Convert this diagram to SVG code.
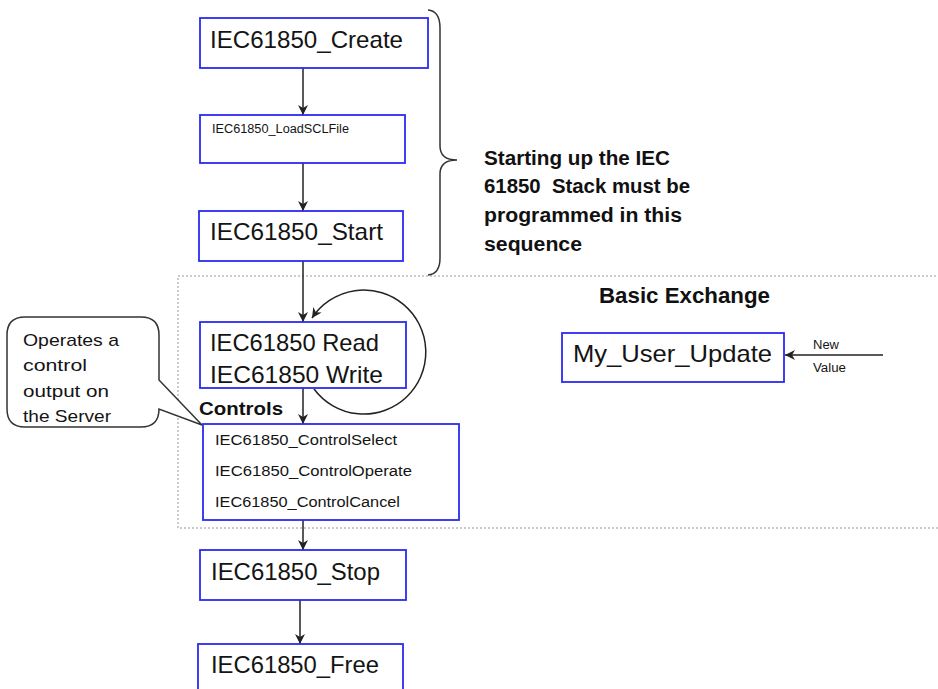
<svg xmlns="http://www.w3.org/2000/svg" width="938" height="689" viewBox="0 0 938 689">
<defs>
<style>
.box{fill:#fff;stroke:#2a2af2;stroke-width:1.8}
.t{font-family:"Liberation Sans",Arial,sans-serif;fill:#141414}
.b{font-family:"Liberation Sans",Arial,sans-serif;font-weight:bold;fill:#111}
.big{font-size:24px}
.c{fill:none;stroke:#222;stroke-width:1.5}
</style>
<marker id="ah" viewBox="0 0 10 10" refX="10" refY="5" markerWidth="10" markerHeight="10" markerUnits="userSpaceOnUse" orient="auto">
<path d="M0,0 L10,5 L0,10 L3,5 Z" fill="#222"/>
</marker>
</defs>
<rect width="938" height="689" fill="#fff"/>

<g id="basic-exchange-frame">
<rect x="178" y="276" width="790" height="252" fill="none" stroke="#999" stroke-width="1" stroke-dasharray="2 2"/>
<text class="b" x="599" y="303" font-size="22" textLength="171" lengthAdjust="spacingAndGlyphs">Basic Exchange</text>
</g>

<g id="brace">
<path d="M428,10 Q440,11 440,28 L440,146 Q440,160 457,160 Q440,160 440,174 L440,258 Q440,274 428,275" fill="none" stroke="#333" stroke-width="1.5"/>
<text class="b" font-size="20" xml:space="preserve" style="white-space:pre">
<tspan x="484" y="165" textLength="186" lengthAdjust="spacingAndGlyphs">Starting up the IEC</tspan>
<tspan x="484" y="193" textLength="206" lengthAdjust="spacingAndGlyphs">61850  Stack must be</tspan>
<tspan x="484" y="222" textLength="198" lengthAdjust="spacingAndGlyphs">programmed in this</tspan>
<tspan x="484" y="251" textLength="98" lengthAdjust="spacingAndGlyphs">sequence</tspan>
</text>
</g>

<g id="connectors">
<line class="c" x1="303" y1="68" x2="303" y2="115" marker-end="url(#ah)"/>
<line class="c" x1="303" y1="163" x2="303" y2="211" marker-end="url(#ah)"/>
<line class="c" x1="303" y1="261" x2="303" y2="322" marker-end="url(#ah)"/>
<line class="c" x1="303" y1="388" x2="303" y2="424" marker-end="url(#ah)"/>
<line class="c" x1="303" y1="520" x2="303" y2="550" marker-end="url(#ah)"/>
<line class="c" x1="300" y1="600" x2="300" y2="644" marker-end="url(#ah)"/>
<path class="c" d="M314,389 A62,62 0 1 0 312,318" stroke-width="1.8" marker-end="url(#ah)"/>
<line class="c" x1="883" y1="355" x2="785" y2="355" marker-end="url(#ah)"/>
<text class="t" x="813" y="349" font-size="12" textLength="26" lengthAdjust="spacingAndGlyphs">New</text>
<text class="t" x="813" y="372" font-size="12" textLength="33" lengthAdjust="spacingAndGlyphs">Value</text>
</g>

<g id="create">
<rect class="box" x="200" y="18" width="228" height="50"/>
<text class="t big" x="210" y="48" textLength="193" lengthAdjust="spacingAndGlyphs">IEC61850_Create</text>
</g>
<g id="loadscl">
<rect class="box" x="200" y="115" width="205" height="48"/>
<text class="t" x="212" y="133" font-size="12" textLength="137" lengthAdjust="spacingAndGlyphs">IEC61850_LoadSCLFile</text>
</g>
<g id="start">
<rect class="box" x="199" y="211" width="204" height="50"/>
<text class="t big" x="210" y="240" textLength="173" lengthAdjust="spacingAndGlyphs">IEC61850_Start</text>
</g>
<g id="readwrite">
<rect class="box" x="200" y="322" width="206" height="66"/>
<text class="t big" x="210" y="351" textLength="169" lengthAdjust="spacingAndGlyphs">IEC61850 Read</text>
<text class="t big" x="210" y="383" textLength="173" lengthAdjust="spacingAndGlyphs">IEC61850 Write</text>
</g>
<g id="controls">
<text class="b" x="199" y="415" font-size="19" textLength="84" lengthAdjust="spacingAndGlyphs">Controls</text>
<rect class="box" x="203" y="424" width="256" height="96"/>
<text class="t" x="215" y="445" font-size="15.5" textLength="182" lengthAdjust="spacingAndGlyphs">IEC61850_ControlSelect</text>
<text class="t" x="215" y="476" font-size="15.5" textLength="197" lengthAdjust="spacingAndGlyphs">IEC61850_ControlOperate</text>
<text class="t" x="215" y="507" font-size="15.5" textLength="185" lengthAdjust="spacingAndGlyphs">IEC61850_ControlCancel</text>
</g>
<g id="callout">
<path d="M25,317 H141 Q159,317 159,335 V380 L202,425 L159,409 Q159,427 141,427 H25 Q7,427 7,409 V335 Q7,317 25,317 Z" fill="#fff" stroke="#333" stroke-width="1.5"/>
<text class="t" font-size="17">
<tspan x="23" y="346" textLength="96" lengthAdjust="spacingAndGlyphs">Operates a</tspan>
<tspan x="23" y="371" textLength="64" lengthAdjust="spacingAndGlyphs">control</tspan>
<tspan x="23" y="397" textLength="86" lengthAdjust="spacingAndGlyphs">output on</tspan>
<tspan x="23" y="422" textLength="88" lengthAdjust="spacingAndGlyphs">the Server</tspan>
</text>
</g>
<g id="my-user-update">
<rect class="box" x="562" y="333" width="222" height="49"/>
<text class="t big" x="573" y="362" textLength="199" lengthAdjust="spacingAndGlyphs">My_User_Update</text>
</g>
<g id="stop">
<rect class="box" x="200" y="550" width="206" height="50"/>
<text class="t big" x="211" y="580" textLength="169" lengthAdjust="spacingAndGlyphs">IEC61850_Stop</text>
</g>
<g id="free">
<rect class="box" x="198" y="644" width="205" height="60"/>
<text class="t big" x="211" y="673" textLength="168" lengthAdjust="spacingAndGlyphs">IEC61850_Free</text>
</g>
</svg>
